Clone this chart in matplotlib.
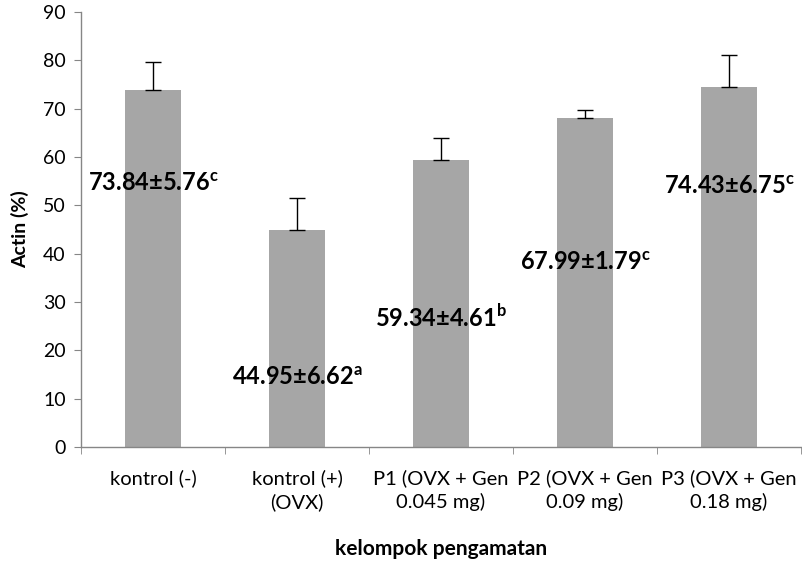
import numpy as np
import matplotlib
matplotlib.use("Agg")
from matplotlib import pyplot as plt
from matplotlib.ticker import FixedLocator

# data
groups = ["kontrol (-)", "kontrol (+)\n(OVX)", "P1 (OVX + Gen\n0.045 mg)",
          "P2 (OVX + Gen\n0.09 mg)", "P3 (OVX + Gen\n0.18 mg)"]
means = [73.84, 44.95, 59.34, 67.99, 74.43]
sds = [5.76, 6.62, 4.61, 1.79, 6.75]
letters = ["c", "a", "b", "c", "c"]
label_y = [54.6, 14.3, 26.9, 38.1, 53.8]

plt.rcParams['font.family'] = ['Lato', 'DejaVu Sans']
plt.rcParams['mathtext.fontset'] = 'custom'
plt.rcParams['mathtext.rm'] = 'Lato'
plt.rcParams['mathtext.bf'] = 'Lato:bold'

fig = plt.figure(figsize=(8.03, 5.66), dpi=100)
ax = fig.add_axes([0.101, 0.2102, 0.8965, 0.7688])

x = np.arange(len(groups))
ax.bar(x, means, width=0.39, color="#a6a6a6", zorder=2)
ax.errorbar(x, means, yerr=[np.zeros(len(sds)), sds], fmt="none",
            ecolor="black", elinewidth=1.0, capsize=6, capthick=1.0, zorder=3)

for xi, m, s, l, ly in zip(x, means, sds, letters, label_y):
    ax.text(xi, ly, "%.2f±%.2f$^{\\mathbf{%s}}$" % (m, s, l), ha="center", va="center",
            fontsize=17, fontweight="bold", zorder=4)

ax.set_xlim(-0.5, len(groups) - 0.5)
ax.set_ylim(0, 90)
ax.set_yticks(np.arange(0, 91, 10))
ax.set_xticks(x)
ax.set_xticklabels(groups, fontsize=14.5, linespacing=1.4)
ax.xaxis.set_minor_locator(FixedLocator(np.arange(-0.5, len(groups), 1.0)))
ax.tick_params(axis="x", which="major", length=0, pad=16)
ax.tick_params(axis="x", which="minor", length=5, color="#868686", direction="out")
ax.tick_params(axis="y", length=5, color="#868686", labelsize=14, direction="out", pad=6)

for side in ["top", "right"]:
    ax.spines[side].set_visible(False)
for side in ["left", "bottom"]:
    ax.spines[side].set_color("#868686")
    ax.spines[side].set_linewidth(1.0)

ax.set_ylabel("Actin (%)", fontsize=14, fontweight="bold", labelpad=10)
fig.text(0.549, 0.03, "kelompok pengamatan", ha="center", va="center",
         fontsize=15, fontweight="bold")

fig.savefig("out.png", dpi=100)
